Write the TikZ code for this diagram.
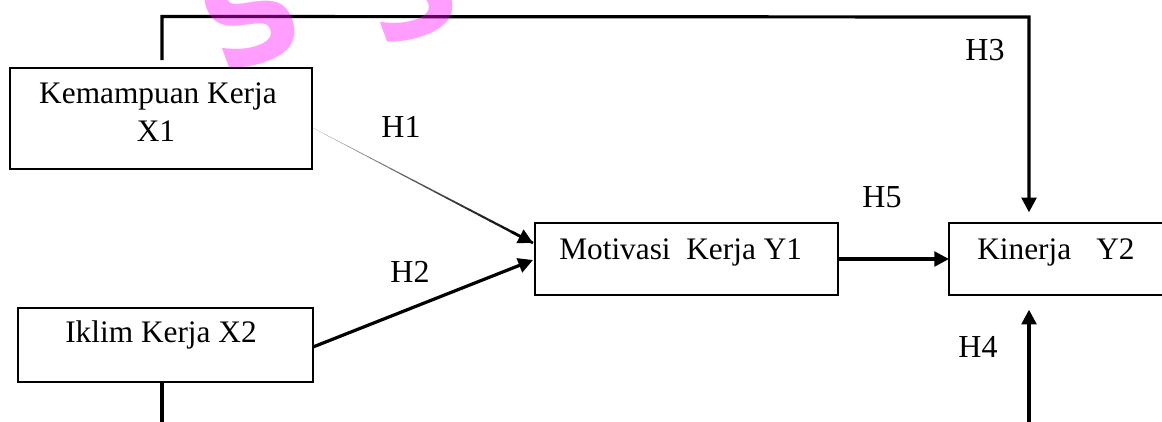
\documentclass[tikz,border=0pt]{standalone}
\usepackage{fontspec}
\setmainfont{Liberation Serif}
\newfontfamily\wmfont{DejaVu Sans}
\usetikzlibrary{arrows.meta,calc}
\definecolor{wmpink}{RGB}{255,0,255}
\begin{document}
\begin{tikzpicture}[x=0.75pt,y=-0.75pt,
  box/.style={draw=black, line width=2.2pt, inner sep=0pt, outer sep=0pt},
  txt/.style={font=\fontsize{23.5}{28}\selectfont, inner sep=0pt},
  lbl/.style={font=\fontsize{24}{28}\selectfont, inner sep=0pt},
  conn/.style={line width=2.4pt, line cap=butt},
  tip/.style={-{Triangle[length=11pt,width=11pt]}},
  wm/.style={text=wmpink, text opacity=0.38, font=\wmfont\bfseries\fontsize{100}{100}\selectfont, inner sep=0pt}]
\useasboundingbox (0,0) rectangle (1162,421);
\clip (0,0) rectangle (1162,421);

% boxes
\node[box, minimum width=226.5pt, minimum height=75.75pt] (x1) at (161,118.5) {};
\node[box, minimum width=221.25pt, minimum height=55.5pt] (x2) at (165.5,345) {};
\node[box, minimum width=227.25pt, minimum height=54pt] (m) at (686.5,259) {};
\node[box, minimum width=166.5pt, minimum height=54pt] (k) at (1060,259) {};

% box texts
\node[txt, anchor=base] (x1a) at (158,103) {Kemampuan Kerja};
\node[txt, anchor=base] (x1b) at (156,141) {X1};
\node[txt, anchor=base] (x2t) at (161,342) {Iklim Kerja X2};
\node[txt, anchor=base west] (mt) at (559,259) {Motivasi\ \ Kerja Y1};
\node[txt, anchor=base west] (kt) at (977,259) {Kinerja\hspace{0.8em}Y2};

% coordinates for free ends and bends
\coordinate (tl) at ($(x1.north)+(1,-51.5)$);
\coordinate (tr) at (1029,17);
\coordinate (b4) at (1029,425);
\coordinate (b2) at ($(x2.south)+(-3.5,50)$);
\coordinate (h1s) at ($(x1.east)+(1,9.5)$);
\coordinate (h1e) at ($(m.west)+(-2,-16)$);
\coordinate (h2s) at ($(x2.east)+(0,2)$);
\coordinate (h2e) at ($(m.west)+(-2,1)$);

% H3 connector
\draw[conn, tip, shorten <=6pt, shorten >=8pt] ($(x1.north)+(1,0)$) -- (tl) -- (tr) -- (tr |- k.north);
% H4 connector
\draw[conn, tip, shorten >=11pt] (b4) -- (b4 |- k.south);
% X2 down line
\draw[conn] ($(x2.south)+(-3.5,0)$) -- (b2);
% H5
\draw[conn, tip] (m.east) -- (k.west);
% H2
\draw[conn, tip] (h2s) -- (h2e);
% H1 tapered line
\foreach \i in {0,...,19} {
  \pgfmathsetmacro\a{\i/20}
  \pgfmathsetmacro\b{(\i+1)/20}
  \pgfmathsetmacro\w{0.15+1.8*\i/19}
  \pgfmathsetmacro\c{35+65*\i/19}
  \draw[line width=\w pt, black!\c] ($(h1s)!\a!(h1e)$) -- ($(h1s)!\b!(h1e)$);
}
\draw[line width=2pt, tip] ($(h1s)!0.9!(h1e)$) -- (h1e);

% labels
\node[lbl] (H1) at (401,127) {H1};
\node[lbl] (H2) at (410,272) {H2};
\node[lbl] (H3) at (985,50) {H3};
\node[lbl] (H4) at (978,347) {H4};
\node[lbl] (H5) at (882,197) {H5};

% watermark fragments
\node[wm, rotate=20] (wm1) at (250,14) {S};
\node[wm, rotate=20] (wm2) at (408,-12) {S};
\end{tikzpicture}
\end{document}
